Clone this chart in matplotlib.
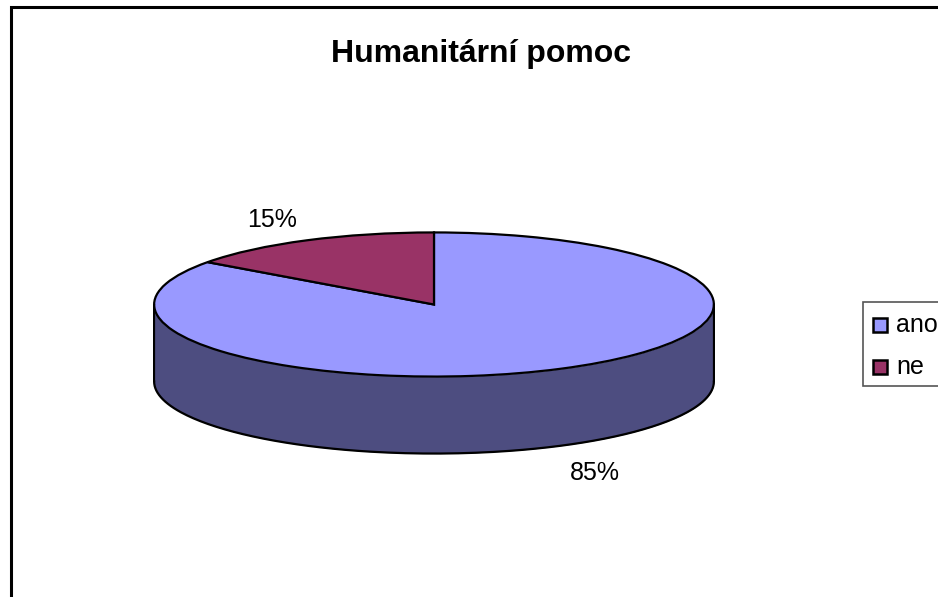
import numpy as np
import matplotlib
matplotlib.use("Agg")
import matplotlib.pyplot as plt
from matplotlib.patches import Rectangle

plt.rcParams['font.family'] = ['Liberation Sans', 'DejaVu Sans']

title = "Humanitární pomoc"
categories = ["ano", "ne"]
values = [85, 15]
labels = ["85%", "15%"]
colors = ["#9999FF", "#993366"]
side_color = "#4D4D80"

W, H = 938, 597
fig = plt.figure(figsize=(W / 100, H / 100), dpi=100)
fig.patch.set_facecolor("white")

# page axes in pixel coords, for frame, texts and legend
bg = fig.add_axes([0, 0, 1, 1])
bg.set_xlim(0, W)
bg.set_ylim(H, 0)
bg.axis("off")

# frame, cut off at the bottom like the reference
bg.plot([10.5, 10.5, 937], [H + 5, 6.5, 6.5], color="black", lw=2.2, solid_joinstyle="miter")

bg.text(481, 54, title, fontsize=23, fontweight="bold", ha="center", va="center")
bg.text(272, 220, labels[1], fontsize=18, ha="center", va="center")
bg.text(595, 473, labels[0], fontsize=18, ha="center", va="center")

# legend
bg.add_patch(Rectangle((863, 302), 80, 84, fc="white", ec="#555555", lw=1.2, clip_on=True))
for name, col, y in zip(categories, colors, [324.5, 366.5]):
    bg.add_patch(Rectangle((873, y - 7), 14, 14, fc=col, ec="black", lw=1.8))
    bg.text(896, y + 1, name, fontsize=18, ha="left", va="center")

# pie axes: unit circle squashed to an ellipse
cx, cy, rx, ry, depth = 434, 304, 281, 73, 78
y_low = cy + ry + depth
ax = fig.add_axes([(cx - rx) / W, 1 - y_low / H, 2 * rx / W, (2 * ry + depth) / H])
d = depth / ry
t = np.linspace(np.pi, 2 * np.pi, 200)
ax.fill_between(np.cos(t), np.sin(t), np.sin(t) - d, color=side_color, lw=0)
ax.plot(np.cos(t), np.sin(t) - d, color="black", lw=1.6)
ax.plot([-1, -1], [0, -d], color="black", lw=1.6)
ax.plot([1, 1], [0, -d], color="black", lw=1.6)
ax.pie(values, startangle=90, counterclock=False, center=(0, 0), radius=1, colors=colors,
       wedgeprops=dict(edgecolor="black", linewidth=1.6))
ax.set_aspect("auto")
ax.set_xlim(-1.004, 1.004)
ax.set_ylim(-1 - d - 0.02, 1.02)
ax.axis("off")

fig.savefig("out.png", dpi=100)
